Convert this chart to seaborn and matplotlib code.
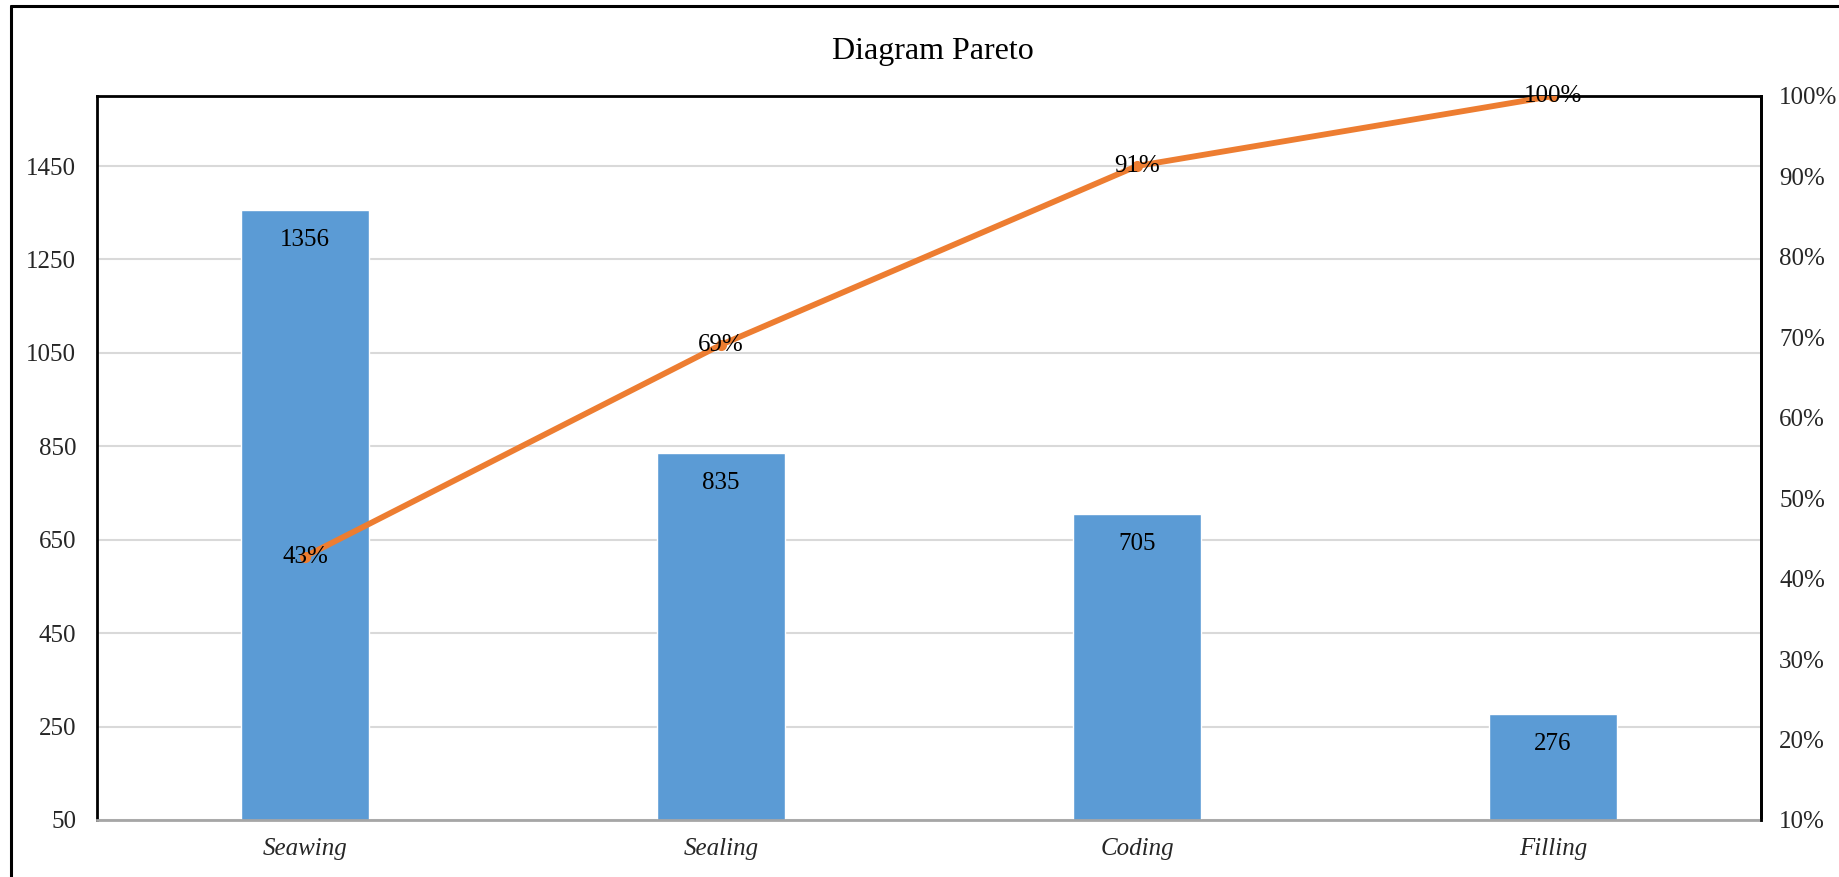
import numpy as np
import pandas as pd
import matplotlib
matplotlib.use("Agg")
import matplotlib.pyplot as plt
from matplotlib.lines import Line2D
from matplotlib.ticker import FixedLocator, FuncFormatter
import seaborn as sns

# Defect counts per process step
categories = ["Seawing", "Sealing", "Coding", "Filling"]
defects = [1356, 835, 705, 276]

left_ticks = [50, 250, 450, 650, 850, 1050, 1250, 1450]
right_ticks = [0.1, 0.2, 0.3, 0.4, 0.5, 0.6, 0.7, 0.8, 0.9, 1.0]

cum_pct = np.cumsum(defects) / np.sum(defects)

df = pd.DataFrame({"category": categories, "defects": defects})
line_df = pd.DataFrame({"pos": np.arange(len(categories)), "cum": cum_pct})

sns.set_theme(style="white")
plt.rcParams["font.family"] = ["Liberation Serif", "DejaVu Serif"]

BAR = "#5B9BD5"
LINE = "#ED7D31"
GRID = "#D9D9D9"
FS = 18

fig = plt.figure(figsize=(18.4, 8.77), dpi=100)
ax = fig.add_axes([97 / 1840, 1 - 820 / 877, (1761 - 97) / 1840, (820 - 96) / 877])

sns.barplot(data=df, x="category", y="defects", color=BAR, width=0.31,
            saturation=1, ax=ax, zorder=2)
ax.set_xlim(-0.5, len(categories) - 0.5)
ax.set_ylim(50, 1600)
ax.yaxis.set_major_locator(FixedLocator(left_ticks))
ax.yaxis.grid(True, color=GRID, lw=1.5)
ax.set_axisbelow(True)
ax.set_xlabel("")
ax.set_ylabel("")
ax.tick_params(axis="y", length=0, pad=15, labelsize=FS)
ax.tick_params(axis="x", length=0, pad=13, labelsize=FS)
for lbl in ax.get_xticklabels():
    lbl.set_fontstyle("italic")

for spine in ("left", "top", "right"):
    ax.spines[spine].set_color("black")
    ax.spines[spine].set_linewidth(2)
ax.spines["bottom"].set_color("#A6A6A6")
ax.spines["bottom"].set_linewidth(2)

# Value labels just inside the top of each bar
for i, v in enumerate(defects):
    ax.annotate(f"{v}", (i, v), xytext=(0, -30), textcoords="offset pixels",
                ha="center", va="center", fontsize=FS, color="black")

# Cumulative percentage on the secondary axis
ax2 = ax.twinx()
sns.lineplot(data=line_df, x="pos", y="cum", color=LINE, lw=4.2, marker="o",
             markersize=8, markeredgewidth=0, ax=ax2)
ax2.set_ylim(0.1, 1.0)
ax2.set_xlim(-0.5, len(categories) - 0.5)
ax2.yaxis.set_major_locator(FixedLocator(right_ticks))
ax2.yaxis.set_major_formatter(FuncFormatter(lambda v, _: f"{v * 100:.0f}%"))
ax2.tick_params(axis="y", length=0, pad=13, labelsize=FS)
ax2.set_ylabel("")
ax2.set_xlabel("")
ax2.grid(False)
for spine in ("left", "top", "bottom"):
    ax2.spines[spine].set_visible(False)
ax2.spines["right"].set_color("black")
ax2.spines["right"].set_linewidth(2)

for i, c in enumerate(cum_pct):
    ax2.text(i, c, f"{c * 100:.0f}%", ha="center", va="center",
             fontsize=FS, color="black", zorder=5)

fig.text(933 / 1840, 1 - 51 / 877, "Diagram Pareto", ha="center", va="center",
         fontsize=23, color="black")

# Outer chart frame (top and left edges)
fig.add_artist(Line2D([11 / 1840, 1.0], [1 - 6 / 877, 1 - 6 / 877],
                      transform=fig.transFigure, color="black", lw=2.2))
fig.add_artist(Line2D([11 / 1840, 11 / 1840], [0.0, 1 - 6 / 877],
                      transform=fig.transFigure, color="black", lw=2.2))

fig.savefig("out.png", dpi=100, facecolor="white")
